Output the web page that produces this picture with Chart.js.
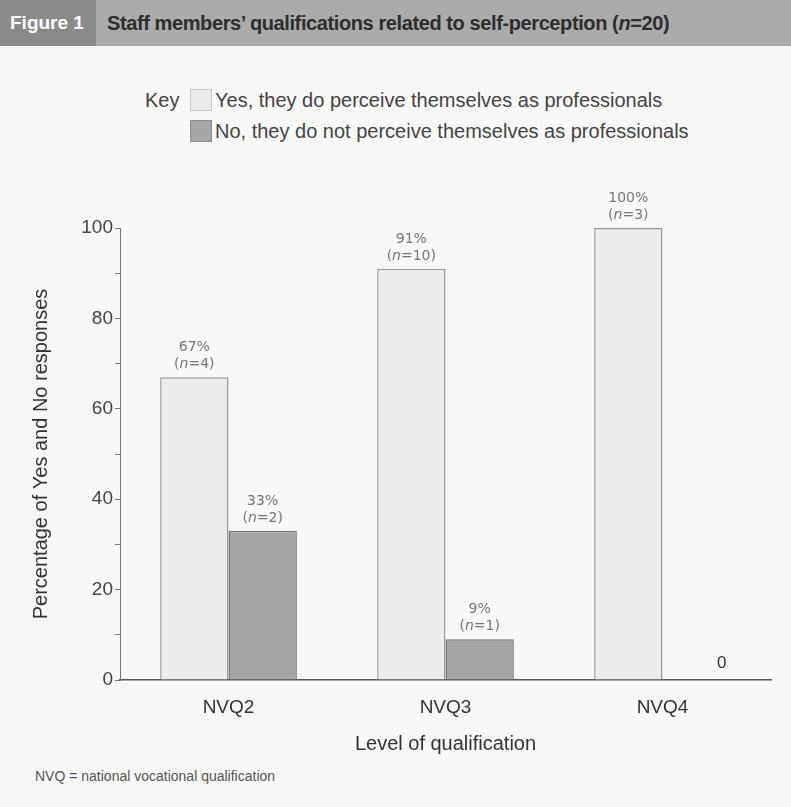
<!DOCTYPE html>
<html>
<head>
<meta charset="utf-8">
<script src="https://cdn.jsdelivr.net/npm/chart.js@4"></script>
<style>
  html, body { margin: 0; padding: 0; }
  body { width: 791px; height: 807px; background: #f8f8f6; position: relative; overflow: hidden; font-family: "Liberation Sans", Arial, sans-serif; }
  .header { position: absolute; left: 0; top: 0; width: 791px; height: 46px; background: #ababab; }
  .fig { position: absolute; left: 0; top: 0; width: 96px; height: 46px; background: #8a8a8a; color: #fff; font: bold 19px "Liberation Sans Narrow", "Liberation Sans", sans-serif; line-height: 46px; text-indent: 10px; }
  .title { position: absolute; left: 107px; top: 0; height: 46px; color: #2e2e2e; font: bold 20px "Liberation Sans Narrow", "Liberation Sans", sans-serif; letter-spacing: -0.4px; line-height: 46px; }
  .key { position: absolute; left: 145px; top: 87px; color: #444; font-size: 20px; }
  .key .row { height: 31px; line-height: 26px; position: relative; padding-left: 70px; }
  .key .lbl { position: absolute; left: 0; top: 0; }
  .key .sw { position: absolute; left: 45px; top: 2px; width: 20px; height: 20px; }
  .foot { position: absolute; left: 35px; top: 768px; color: #555; font: 14px "Liberation Sans Narrow", "Liberation Sans", sans-serif; }
  #wrap { position: absolute; left: 0; top: 180px; width: 791px; height: 580px; }
</style>
</head>
<body>
<div class="header">
  <div class="fig">Figure 1</div>
  <div class="title">Staff members’ qualifications related to self-perception (<i>n</i>=20)</div>
</div>
<div class="key">
  <div class="row"><span class="lbl">Key</span><span class="sw" style="background:#ececec;border:1px solid #c8c8c8"></span>Yes, they do perceive themselves as professionals</div>
  <div class="row"><span class="sw" style="background:#a6a6a6;border:1px solid #8a8a8a"></span>No, they do not perceive themselves as professionals</div>
</div>
<div id="wrap"><canvas id="chart"></canvas></div>
<div class="foot">NVQ = national vocational qualification</div>

<script>
const categorias = ["NVQ2", "NVQ3", "NVQ4"];
const valoresSi = [67, 91, 100];
const valoresNo = [33, 9, 0];
const nSi = [4, 10, 3];
const nNo = [2, 1, 0];
const ticksY = [0, 20, 40, 60, 80, 100];

const FUENTE = "'Liberation Sans Narrow', 'Liberation Sans', sans-serif";

// etiquetas encima de cada barra
const etiquetas = {
  id: "etiquetas",
  afterDatasetsDraw(chart) {
    const ctx = chart.ctx;
    ctx.save();
    ctx.textAlign = "center";
    chart.data.datasets.forEach((ds, i) => {
      const meta = chart.getDatasetMeta(i);
      const ns = i === 0 ? nSi : nNo;
      meta.data.forEach((bar, j) => {
        const v = ds.data[j];
        if (v === 0) {
          ctx.fillStyle = "#333";
          ctx.font = "17px 'Liberation Sans', sans-serif";
          ctx.fillText("0", bar.x + 25, bar.y - 12);
          return;
        }
        ctx.fillStyle = "#777";
        ctx.font = "14px 'DejaVu Sans', sans-serif";
        ctx.fillText(v + "%", bar.x, bar.y - 26);
        // (n=4) con la n en cursiva
        const a = "(", b = "n", c = "=" + ns[j] + ")";
        const wa = ctx.measureText(a).width, wc = ctx.measureText(c).width;
        ctx.font = "italic 14px 'DejaVu Sans', sans-serif";
        const wb = ctx.measureText(b).width;
        const x = bar.x - (wa + wb + wc) / 2;
        const y = bar.y - 9;
        ctx.textAlign = "left";
        ctx.font = "14px 'DejaVu Sans', sans-serif";
        ctx.fillText(a, x, y);
        ctx.font = "italic 14px 'DejaVu Sans', sans-serif";
        ctx.fillText(b, x + wa, y);
        ctx.font = "14px 'DejaVu Sans', sans-serif";
        ctx.fillText(c, x + wa + wb, y);
        ctx.textAlign = "center";
      });
    });
    ctx.restore();
  },
};

new Chart(document.getElementById("chart").getContext("2d"), {
  type: "bar",
  data: {
    labels: categorias,
    datasets: [
      {
        label: "Yes",
        data: valoresSi,
        backgroundColor: "#ececec",
        borderColor: "#9a9a9a",
        borderWidth: 1.5,
      },
      {
        label: "No",
        data: valoresNo,
        backgroundColor: "#a6a6a6",
        borderColor: "#787878",
        borderWidth: 1.5,
      },
    ],
  },
  options: {
    responsive: true,
    maintainAspectRatio: false,
    animation: false,
    datasets: { bar: { categoryPercentage: 0.63, barPercentage: 1 } },
    layout: { padding: { left: 25, right: 20, top: 48, bottom: 0 } },
    plugins: {
      legend: { display: false },
      tooltip: { enabled: false },
    },
    scales: {
      x: {
        grid: { display: false },
        border: { color: "#555", width: 1.5 },
        ticks: { color: "#333", font: { family: FUENTE, size: 19 }, padding: 8 },
        title: { display: true, text: "Level of qualification", color: "#333", font: { family: FUENTE, size: 20 }, padding: 4 },
        afterFit: (scale) => { scale.height = 80; },
      },
      y: {
        min: 0,
        max: 100,
        afterBuildTicks: (scale) => {
          scale.ticks = [];
          for (let v = 0; v <= 100; v += 10) scale.ticks.push({ value: v });
        },
        ticks: {
          color: "#444",
          font: { family: FUENTE, size: 19 },
          padding: 2,
          callback: (v) => (ticksY.includes(v) ? v : ""),
        },
        grid: { drawOnChartArea: false, tickLength: 5, color: "#777" },
        border: { color: "#777", width: 1 },
        title: { display: true, text: "Percentage of Yes and No responses", color: "#333", font: { family: FUENTE, size: 20 }, padding: 4 },
        afterFit: (scale) => { scale.width = 95; },
      },
    },
  },
  plugins: [etiquetas],
});
</script>
</body>
</html>
